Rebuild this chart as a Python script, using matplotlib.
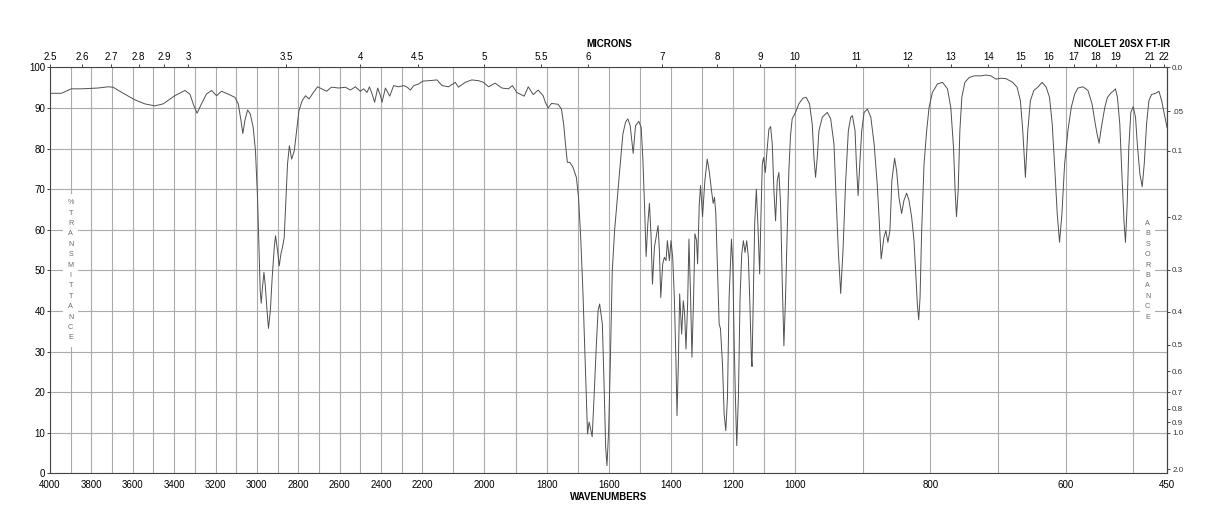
import numpy as np
import matplotlib
matplotlib.use("Agg")
import matplotlib.pyplot as plt
from matplotlib.patches import Rectangle

plt.rcParams['font.family'] = ['Liberation Sans', 'DejaVu Sans']

# spectrum: wavenumber (cm-1) and %T, in four stretches
wn_a = [4000, 3945, 3897, 3849, 3768, 3719, 3695, 3639, 3590, 3542, 3493, 3453, 3397,
        3348, 3324, 3305, 3289, 3268, 3244, 3219, 3195, 3171, 3139, 3106, 3090, 3077,
        3068, 3058, 3045, 3032, 3018, 3007, 2997, 2990, 2984, 2979, 2973, 2966, 2960,
        2951, 2944, 2935, 2926, 2916, 2910, 2900, 2892, 2884, 2876, 2868, 2859, 2852,
        2843, 2832, 2819, 2808, 2797, 2781, 2765, 2748, 2727, 2707, 2687, 2663, 2645]
t_a = [93.6, 93.6, 94.7, 94.7, 94.9, 95.2, 95.1, 93.4, 92.0, 91.0, 90.5, 91.0, 93.0,
       94.3, 93.4, 90.6, 88.7, 91.0, 93.4, 94.3, 93.0, 94.1, 93.4, 92.6, 91.0, 86.9,
       83.7, 86.9, 89.5, 88.5, 85.2, 79.5, 68.0, 55.7, 45.0, 41.9, 45.8, 49.5, 46.6,
       40.1, 35.7, 40.1, 48.3, 55.7, 58.5, 54.8, 51.1, 54.0, 55.8, 58.1, 68.0, 76.2,
       80.7, 77.4, 79.5, 84.4, 89.3, 91.8, 93.0, 92.2, 93.8, 95.2, 94.7, 94.1, 94.9]

wn_b = [2637, 2605, 2572, 2548, 2524, 2500, 2484, 2468, 2456, 2443, 2431, 2416, 2403,
        2395, 2379, 2358, 2339, 2315, 2290, 2274, 2258, 2242, 2218, 2199, 2180, 2153,
        2137, 2116, 2094, 2084, 2062, 2041, 2019, 2003, 1987, 1966, 1944, 1923, 1910,
        1896, 1872, 1859, 1843, 1827, 1811, 1804, 1795, 1784, 1763, 1752, 1745, 1739,
        1733, 1725, 1715, 1704, 1697, 1690, 1683, 1677, 1672, 1668, 1663, 1659, 1653,
        1647, 1640, 1634]
t_b = [95.1, 94.9, 95.1, 94.4, 95.2, 94.1, 94.7, 93.8, 95.2, 93.4, 91.4, 94.9, 93.0,
       91.4, 94.9, 92.9, 95.5, 95.2, 95.5, 95.1, 94.4, 95.5, 95.9, 96.6, 96.7, 96.9,
       95.5, 95.2, 96.3, 95.1, 96.3, 96.9, 96.7, 96.3, 95.2, 96.1, 94.9, 94.7, 95.5,
       93.8, 92.9, 95.2, 93.3, 94.4, 93.0, 91.4, 90.0, 91.1, 90.9, 89.7, 86.0, 81.1,
       76.6, 76.6, 75.4, 72.9, 68.0, 58.1, 45.0, 31.0, 18.7, 9.7, 12.6, 11.3, 9.0,
       18.7, 31.0, 40.1]

wn_c = [1629, 1620.3, 1615, 1609.6, 1605.4, 1600, 1594.7, 1588.3, 1580.8, 1570.1,
        1562.6, 1554, 1545.5, 1538, 1530.5, 1520.9, 1513.4, 1502.7, 1495.2, 1489.9,
        1484.5, 1479.2, 1473.8, 1468.5, 1463.1, 1458.8, 1452.4, 1447.1, 1440.7, 1436.4,
        1432.1, 1425.7, 1420.4, 1415, 1410.7, 1404.3, 1399, 1393.6, 1388.3, 1382.9,
        1379.7, 1375.4, 1371.2, 1364.7, 1359.4, 1355.1, 1350.8, 1345.5, 1341.2, 1335.9,
        1331.6, 1326.2, 1322, 1316.6, 1313.4, 1308, 1303.8, 1297.4, 1289.9, 1282.4,
        1276, 1268.5, 1263.1, 1258.9, 1254.6, 1249.2, 1243.9, 1239.6, 1233.2, 1227.8,
        1222.5, 1217.1, 1211.8, 1204.3, 1200, 1195.8, 1191.5, 1187.2, 1181.9, 1176.5,
        1171.2, 1165.8, 1160.5, 1155.1, 1149.8, 1145.5, 1140.1, 1138, 1133.7, 1129.4,
        1124.1, 1118.7, 1113.4, 1109.1, 1104.8, 1100.6, 1095.2, 1088.8, 1083.5, 1078.1,
        1072.8, 1067.4, 1062.1, 1056.7, 1051.4, 1046, 1040.7, 1035.3, 1030, 1024.6,
        1019.3, 1014, 1008.6, 999, 994.1, 988.1, 983.2, 978.3, 974.3, 971.8,
        969.4, 966.9, 964.4, 959.5, 952.1, 947.1, 942.2, 938.7, 935.8, 932.3,
        928.9, 924.9, 921, 917.5, 915, 911.1, 909.1, 906.6, 904.1, 901.2,
        897.7, 892.8, 887.8, 882.9]
t_c = [41.7, 36.8, 22.8, 6.4, 1.9, 10.5, 26.9, 49.9, 59.8, 69.6,
       76.2, 83.6, 86.5, 87.3, 85.6, 78.8, 85.6, 86.7, 85.2, 77.8,
       66.3, 53.4, 61.4, 66.5, 58.1, 46.6, 55.7, 58.1, 61.0, 54.8,
       43.3, 51.6, 53.2, 52.4, 57.3, 52.4, 57.3, 53.2, 43.3, 26.9,
       14.2, 26.9, 44.2, 34.3, 42.5, 39.2, 30.6, 41.7, 57.7, 43.3,
       28.6, 43.3, 59.0, 57.3, 51.6, 66.3, 70.9, 63.2, 72.1, 77.4,
       74.5, 69.6, 66.5, 68.0, 63.9, 49.9, 36.8, 35.6, 26.9, 14.6,
       10.5, 18.7, 43.3, 57.7, 51.6, 33.5, 18.7, 6.8, 18.7, 43.3,
       54.0, 57.3, 54.4, 57.3, 53.2, 43.3, 28.6, 26.3, 43.3, 61.4,
       70.0, 60.6, 49.1, 63.9, 76.2, 77.8, 74.1, 80.3, 84.8, 85.4,
       81.1, 69.6, 62.2, 72.1, 74.1, 66.3, 47.5, 31.4, 43.3, 59.8,
       74.5, 83.2, 87.3, 88.9, 91.0, 92.4, 92.6, 91.0, 86.0, 77.8,
       72.9, 77.8, 84.4, 87.7, 88.9, 87.3, 81.1, 66.3, 54.8, 44.3,
       54.8, 72.1, 84.4, 87.7, 88.1, 84.4, 76.2, 68.4, 76.2, 84.4,
       88.9, 89.7, 87.7, 81.1]

wn_d = [878.4, 875.9, 872.5, 868.5, 865.6, 862.6, 859.6, 856.7, 852.7, 849.7,
        846.3, 842.3, 838.9, 834.9, 831.4, 827.5, 824, 821.6, 819.1, 817.1,
        815.1, 812.7, 809.2, 805.3, 801.8, 796.9, 789.4, 782, 774.6, 769.7,
        765.7, 763.3, 761.3, 758.8, 756.3, 753.4, 748.9, 742.5, 735.1, 725.2,
        717.8, 710.4, 703, 695.5, 688.1, 678.3, 671.8, 666.9, 663.4, 659.5,
        656, 652.1, 647.1, 641.2, 634.8, 628.8, 623.9, 619.9, 616.5, 612.5,
        609.1, 605.6, 601.6, 596.7, 591.8, 586.8, 581.9, 574.5, 567.1, 561.1,
        557.2, 553.7, 550.7, 547.3, 542.3, 538.4, 532.5, 530, 526.5, 523.6,
        520.1, 516.6, 513.7, 511.7, 509.2, 506.8, 503.8, 500.3, 496.9, 493.9,
        490.4, 487, 484, 480.6, 477.1, 473.2, 467.2, 462.3, 458.3, 454.4,
        450.4]
t_d = [71.3, 63.9, 52.8, 58.1, 59.8, 56.9, 59.8, 72.1, 77.6, 74.5,
       68.0, 64.0, 67.2, 69.0, 67.2, 63.1, 57.3, 49.9, 41.7, 37.8,
       43.3, 59.8, 76.2, 84.4, 90.1, 93.8, 95.9, 96.3, 94.7, 90.1,
       80.3, 69.6, 63.2, 69.6, 84.4, 92.6, 96.3, 97.5, 97.9, 97.9,
       98.1, 97.9, 97.1, 97.3, 97.2, 96.3, 95.1, 91.8, 84.4, 72.9,
       84.4, 91.8, 94.3, 95.1, 96.3, 95.1, 92.6, 86.0, 76.2, 63.9,
       56.9, 63.9, 76.2, 84.4, 90.1, 93.4, 94.9, 95.2, 94.3, 91.0,
       86.9, 83.6, 81.3, 85.2, 90.1, 92.6, 93.8, 94.1, 94.7, 92.6,
       86.0, 72.1, 61.4, 56.9, 66.3, 80.3, 88.9, 90.3, 87.7, 80.3,
       73.7, 70.6, 76.2, 86.0, 91.8, 93.3, 93.6, 94.1, 91.8, 88.5,
       85.2]

wn_labels = [4000, 3800, 3600, 3400, 3200, 3000, 2800, 2600, 2400, 2200, 2000, 1800,
             1600, 1400, 1200, 1000, 800, 600, 450]
micron_ticks = [2.5, 2.6, 2.7, 2.8, 2.9, 3, 3.5, 4, 4.5, 5, 5.5, 6, 7, 8, 9, 10, 11,
                12, 13, 14, 15, 16, 17, 18, 19, 21, 22]
abs_ticks = [0.0, 0.05, 0.1, 0.2, 0.3, 0.4, 0.5, 0.6, 0.7, 0.8, 0.9, 1.0, 2.0]
abs_labels = ['0.0', '.05', '0.1', '0.2', '0.3', '0.4', '0.5', '0.6', '0.7', '0.8',
              '0.9', '1.0', '2.0']

wn = np.array(wn_a + wn_b + wn_c + wn_d, dtype=float)
trans = np.array(t_a + t_b + t_c + t_d, dtype=float)

# the wavenumber axis is piecewise linear: 4000-2200, 2200-1000, 1000-450 get a third each
brk_wn = [450, 1000, 2200, 4000]
brk_u = [0, 1, 2, 3]


def fwd(w):
    w = np.asarray(w, dtype=float)
    u = np.interp(w, brk_wn, brk_u)
    u = np.where(w < 450, (w - 450) / 550., u)
    u = np.where(w > 4000, 3 + (w - 4000) / 1800., u)
    return u


def inv(u):
    u = np.asarray(u, dtype=float)
    w = np.interp(u, brk_u, brk_wn)
    w = np.where(u < 0, 450 + u * 550., w)
    w = np.where(u > 3, 4000 + (u - 3) * 1800., w)
    return w


grid_col = '#ababab'
spine_col = '#444444'

fig = plt.figure(figsize=(12.18, 5.28), dpi=100)
ax = fig.add_axes([0.04105, 0.1036, 0.9173, 0.7689])
ax.set_xscale('function', functions=(fwd, inv))
ax.set_xlim(4000, 450)
ax.set_ylim(0, 100)

ax.plot(wn, trans, color='#505050', lw=0.7, zorder=4)

ax.set_xticks(wn_labels)
ax.set_xticklabels([str(v) for v in wn_labels])
ax.set_xticks(np.arange(500, 4000, 100), minor=True)
ax.xaxis.grid(True, which='both', color=grid_col, lw=0.8)
ax.set_yticks(range(0, 101, 10))
ax.yaxis.grid(True, color=grid_col, lw=0.8)
ax.set_axisbelow(True)
ax.tick_params(axis='x', which='both', length=0, labelsize=7, pad=4.5)
ax.tick_params(axis='y', length=2, width=0.7, labelsize=7, pad=1.5, color=spine_col)
for s in ax.spines.values():
    s.set_color(spine_col)
    s.set_linewidth(0.8)

# microns along the top
top = ax.twiny()
top.set_xscale('function', functions=(fwd, inv))
top.set_xlim(4000, 450)
top.set_xticks([10000. / m for m in micron_ticks])
top.set_xticklabels(['%g' % m for m in micron_ticks])
top.tick_params(axis='x', length=2.5, width=0.7, labelsize=7, pad=1.5, color=spine_col)
top.tick_params(axis='x', which='minor', length=0)
for s in top.spines.values():
    s.set_visible(False)

# absorbance on the right
right = ax.secondary_yaxis('right')
right.set_yticks([100 * 10 ** (-a) for a in abs_ticks])
right.set_yticklabels(abs_labels)
right.tick_params(length=2.5, width=0.7, labelsize=5.8, pad=1, color=spine_col,
                  labelcolor='#333333')
right.spines['right'].set_color(spine_col)
right.spines['right'].set_linewidth(0.8)


# stacked letter captions inside the plot, on a white strip
def stacked(word, w, step=2.56, color='#6a6a6a'):
    n = len(word)
    ys = [50 + ((n - 1) / 2. - i) * step for i in range(n)]
    xa = (3 - float(fwd(w))) / 3.
    ax.add_patch(Rectangle((xa - 0.0067, (ys[-1] - 2.2) / 100.), 0.0134,
                           (ys[0] - ys[-1] + 4.4) / 100., transform=ax.transAxes,
                           facecolor='white', edgecolor='none', zorder=2))
    for ch, y in zip(word, ys):
        ax.text(w, y, ch, ha='center', va='center', fontsize=5.2, color=color, zorder=3)


stacked('%TRANSMITTANCE', 3900)
stacked('ABSORBANCE', 479)

fig.text(609 / 1218., 1 - 44 / 528., 'MICRONS', ha='center', va='center',
         fontsize=7, fontweight='bold')
fig.text(1170 / 1218., 1 - 44 / 528., 'NICOLET 20SX FT-IR', ha='right', va='center',
         fontsize=7, fontweight='bold')
fig.text(609 / 1218., 1 - 497 / 528., 'WAVENUMBERS', ha='center', va='center',
         fontsize=7, fontweight='bold')

fig.savefig('out.png', dpi=100)
